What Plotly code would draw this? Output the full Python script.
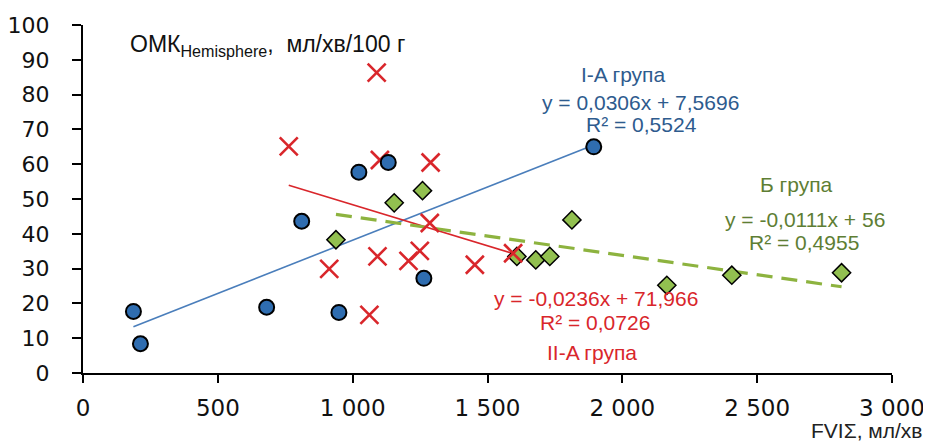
import plotly.graph_objects as go

# I-A група (blue circles)
ia_x = [187, 213, 681, 811, 949, 1023, 1132, 1264, 1894]
ia_y = [17.7, 8.4, 18.9, 43.6, 17.4, 57.7, 60.5, 27.2, 65.0]

# II-A група (red crosses)
iia_x = [763, 913, 1062, 1089, 1092, 1101, 1207, 1249, 1286, 1289, 1453, 1595]
iia_y = [65.1, 29.9, 16.7, 86.3, 33.5, 61.2, 32.2, 35.1, 43.1, 60.5, 31.1, 34.4]

# Б група (green diamonds)
b_x = [938, 1154, 1259, 1609, 1679, 1731, 1813, 2165, 2406, 2813]
b_y = [38.3, 48.9, 52.4, 33.5, 32.5, 33.5, 44.0, 25.2, 28.1, 28.8]

# Trend line coefficients (from the chart equations)
ia_fit = (0.0306, 7.5696)
iia_fit = (-0.0236, 71.966)
b_fit = (-0.0111, 56.0)

x_ticks = [0, 500, 1000, 1500, 2000, 2500, 3000]
x_tick_labels = ["0", "500", "1 000", "1 500", "2 000", "2 500", "3 000"]
y_ticks = [0, 10, 20, 30, 40, 50, 60, 70, 80, 90, 100]

BLUE = "#2F6DB0"
BLUE_LINE = "#4A7EBB"
BLUE_TXT = "#2E5B8E"
RED = "#D9262B"
GREEN = "#92C050"
GREEN_LINE = "#8DB33F"
GREEN_TXT = "#5E7E34"


def trend(xs, fit):
    lo, hi = min(xs), max(xs)
    return [lo, hi], [fit[0] * lo + fit[1], fit[0] * hi + fit[1]]


fig = go.Figure()

tx, ty = trend(ia_x, ia_fit)
fig.add_trace(go.Scatter(x=tx, y=ty, mode="lines",
                         line=dict(color=BLUE_LINE, width=1.6), showlegend=False))
tx, ty = trend(iia_x, iia_fit)
fig.add_trace(go.Scatter(x=tx, y=ty, mode="lines",
                         line=dict(color=RED, width=1.6), showlegend=False))
tx, ty = trend(b_x, b_fit)
fig.add_trace(go.Scatter(x=tx, y=ty, mode="lines",
                         line=dict(color=GREEN_LINE, width=3.2, dash="16px,9px"),
                         showlegend=False))

fig.add_trace(go.Scatter(x=b_x, y=b_y, mode="markers",
                         marker=dict(symbol="diamond", size=14, color=GREEN,
                                     line=dict(color="black", width=1.5)),
                         showlegend=False))
fig.add_trace(go.Scatter(x=iia_x, y=iia_y, mode="markers",
                         marker=dict(symbol="x-thin-open", size=18, color=RED,
                                     line=dict(color=RED, width=2.6)),
                         showlegend=False))
fig.add_trace(go.Scatter(x=ia_x, y=ia_y, mode="markers",
                         marker=dict(symbol="circle", size=15, color=BLUE,
                                     line=dict(color="black", width=2)),
                         showlegend=False))

AF = "Liberation Sans, Arial, sans-serif"

# page offset from default body margin
OFF = 8
W, H = 931 - OFF, 443 - OFF
L, R, T, B = 83, 892.5, 25, 373.3   # plot area in page pixels


def px_x(p):
    return (p - L) / (R - L)


def px_y(p):
    return (B - p) / (B - T)


def ann(x, y, text, color, size=21, xanchor="center"):
    fig.add_annotation(x=px_x(x), y=px_y(y), xref="paper", yref="paper", text=text,
                       showarrow=False, xanchor=xanchor, yanchor="middle",
                       font=dict(family=AF, size=size, color=color))


ann(268, 46, "ОМК<sub>Hemisphere</sub>,  мл/хв/100 г", "#111111", size=23)
ann(623, 75, "I-A група", BLUE_TXT)
ann(641, 103, "y = 0,0306x + 7,5696", BLUE_TXT)
ann(642, 125, "R² = 0,5524", BLUE_TXT)
ann(797, 185, "Б група", GREEN_TXT)
ann(805, 220, "y = -0,0111x + 56", GREEN_TXT)
ann(804, 243, "R² = 0,4955", GREEN_TXT)
ann(596, 299, "y = -0,0236x + 71,966", RED)
ann(595, 323, "R² = 0,0726", RED)
ann(592, 353, "II-A група", RED)
ann(926, 431, "FVIΣ, мл/хв", "#222222", size=21, xanchor="right")

TF = "DejaVu Sans, sans-serif"
fig.update_xaxes(range=[0, 3000], tickvals=x_ticks, ticktext=x_tick_labels,
                 showgrid=False, zeroline=False, showline=True, linecolor="black",
                 linewidth=2, ticks="outside", ticklen=8, tickwidth=2, tickcolor="black",
                 tickfont=dict(family=TF, size=23, color="#111111"),
                 ticklabelstandoff=5, automargin=False)
fig.update_yaxes(range=[0, 100], tickvals=y_ticks,
                 showgrid=False, zeroline=False, showline=True, linecolor="black",
                 linewidth=2, ticks="outside", ticklen=9, tickwidth=2, tickcolor="black",
                 tickfont=dict(family=TF, size=22, color="#111111"),
                 ticklabelstandoff=18, automargin=False)

fig.update_layout(width=W, height=H,
                  margin=dict(l=L - OFF, r=931 - R, t=T - OFF, b=443 - B),
                  paper_bgcolor="white", plot_bgcolor="white", showlegend=False)

fig.write_html("out.html")
